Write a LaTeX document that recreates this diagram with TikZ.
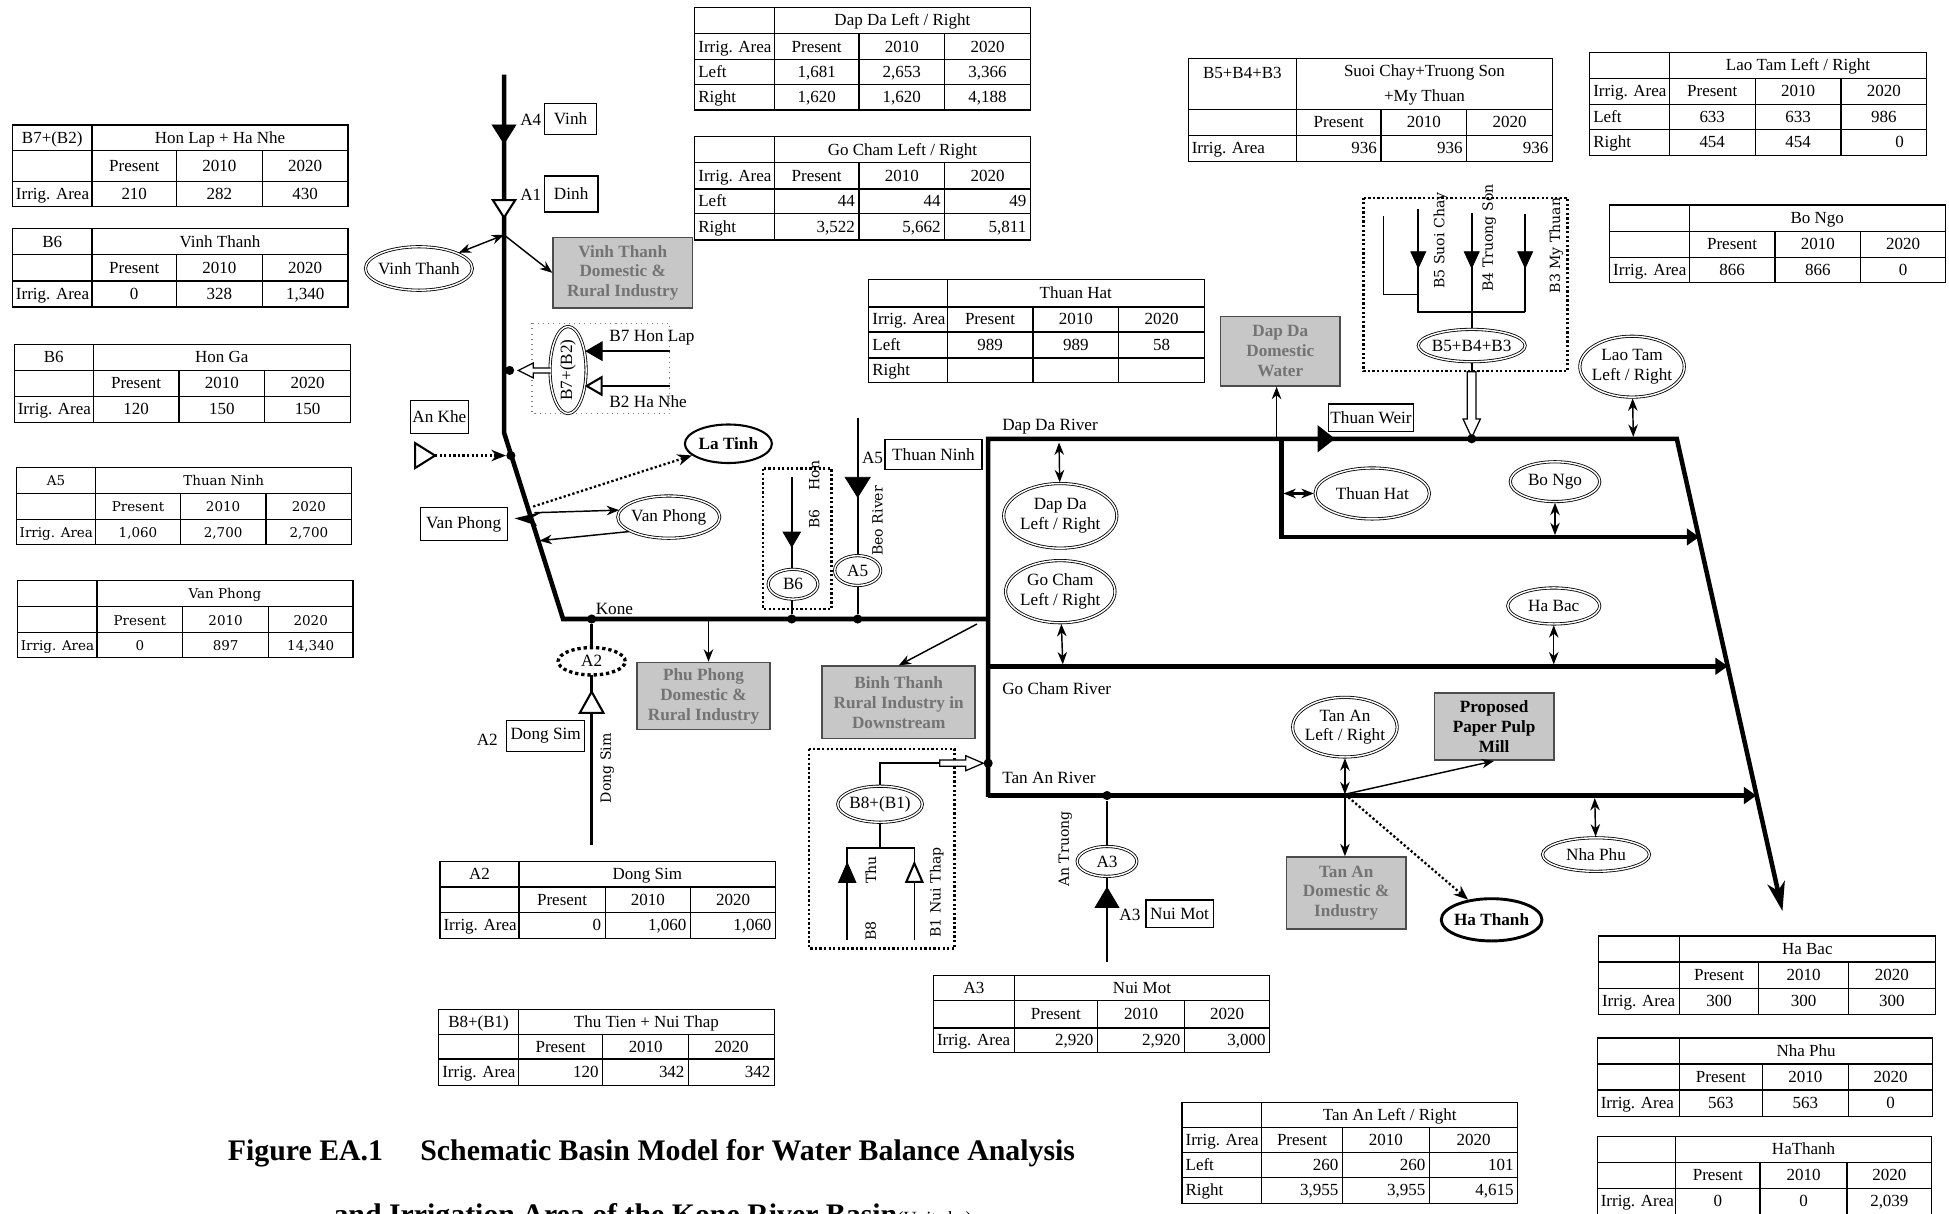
\documentclass[tikz,border=0pt]{standalone}
\usepackage{fontspec}
\setmainfont{Liberation Serif}
\newfontfamily\cent{DejaVu Serif}
\usetikzlibrary{arrows.meta,shapes.geometric}
\newcommand\labfont{\fontsize{8.3}{9.6}\selectfont}
\newcommand\tabfont{\fontsize{8.2}{9.6}\selectfont}
\newcommand\cenfont{\cent\fontsize{6.8}{8}\selectfont}
\newcommand\cenfontT{\cent\fontsize{6.5}{8}\selectfont}

\tikzset{
  x={(0.6pt,0)}, y={(0,-0.6pt)},
  river/.style={line width=2.2pt, line join=miter},
  tbl/.style={line width=0.6pt},
  tc/.style={font=\tabfont, inner sep=0pt, text height=6pt, text depth=0.8pt},
  lab/.style={font=\labfont, inner sep=0pt},
  rlab/.style={font=\cenfont, inner sep=0pt, rotate=90},
  lbox/.style={draw, line width=0.6pt, fill=white, font=\labfont, inner sep=0pt},
  gbox/.style={draw=black!70, line width=0.8pt, fill=black!22, text=black!55, font=\bfseries\labfont, align=center, inner sep=0pt},
  ell/.style={ellipse, draw, fill=white, double, double distance=0.7pt, line width=0.4pt, inner sep=-3pt, font=\labfont, align=center, outer sep=0.6pt},
  es/.style 2 args={minimum width={#1*1.2pt}, minimum height={#2*1.2pt}},
  bs/.style 2 args={minimum width={#1*0.6pt}, minimum height={#2*0.6pt}},
  dot/.style={circle, fill, inner sep=0pt, minimum size=4.4pt},
  arr/.style={line width=0.7pt, -{Stealth[length=6pt,width=4.6pt]}},
  darr/.style={line width=0.7pt, {Stealth[length=6pt,width=4.6pt]}-{Stealth[length=6pt,width=4.6pt]}},
  dotarr/.style={line width=1.1pt, dash pattern=on 1.1pt off 1.1pt, -{Stealth[length=7pt,width=5.5pt]}},
  tfill/.style={fill=black, draw=black, line width=0.4pt},
  topen/.style={fill=white, draw=black, line width=1pt},
  thinl/.style={line width=0.8pt},
  dbox/.style={line width=1.1pt, dash pattern=on 1.1pt off 1.1pt},
}

% triangles: #1 style, #2 (x,y) centre, #3 half width, #4 half length
\newcommand\tdown[4]{\filldraw[#1,shift={#2}] (-#3,-#4) -- (#3,-#4) -- (0,#4) -- cycle;}
\newcommand\tup[4]{\filldraw[#1,shift={#2}] (-#3,#4) -- (#3,#4) -- (0,-#4) -- cycle;}
\newcommand\tleft[4]{\filldraw[#1,shift={#2}] (#4,-#3) -- (#4,#3) -- (-#4,0) -- cycle;}
\newcommand\tright[4]{\filldraw[#1,shift={#2}] (-#4,-#3) -- (-#4,#3) -- (#4,0) -- cycle;}

% tables
\newcommand\tgrid[1]{%
 \pgfmathsetmacro\gxa{\TX[0]}\pgfmathsetmacro\gxb{\TX[1]}\pgfmathsetmacro\gxc{\TX[2]}%
 \pgfmathsetmacro\gxd{\TX[3]}\pgfmathsetmacro\gxe{\TX[4]}%
 \pgfmathsetmacro\gya{\TY[0]}\pgfmathsetmacro\gyb{\TY[1]}\pgfmathsetmacro\gyc{\TY[2]}%
 \pgfmathsetmacro\gyd{\TY[#1]}%
 \draw[tbl] (\gxa,\gya) rectangle (\gxe,\gyd);
 \draw[tbl] (\gxa,\gyb) -- (\gxe,\gyb) (\gxa,\gyc) -- (\gxe,\gyc);
 \ifnum#1=4 \pgfmathsetmacro\gyx{\TY[3]}\draw[tbl] (\gxa,\gyx) -- (\gxe,\gyx);\fi
 \draw[tbl] (\gxb,\gya) -- (\gxb,\gyd) (\gxc,\gyb) -- (\gxc,\gyd) (\gxd,\gyb) -- (\gxd,\gyd);
}
\newcommand\tcell[5]{%
 \if\relax\detokenize{#5}\relax\else
 \pgfmathtruncatemacro\cn{#2+1}\pgfmathtruncatemacro\rn{#3+1}%
 \pgfmathsetmacro\cxl{\TX[#2]}\pgfmathsetmacro\cxr{\TX[\cn]}%
 \pgfmathsetmacro\cyt{\TY[#3]}\pgfmathsetmacro\cyb{\TY[\rn]}%
 \pgfmathsetmacro\cyc{(\cyt+\cyb)/2}\pgfmathsetmacro\cxc{(\cxl+\cxr)/2}%
 \if#4l\node[tc,anchor=west] (#1) at (\cxl+2.5,\cyc) {#5};\fi
 \if#4c\node[tc] (#1) at (\cxc,\cyc) {#5};\fi
 \if#4r\node[tc,anchor=east] (#1) at (\cxr-3,\cyc) {#5};\fi
 \fi}
\newcommand\thead[3]{%
 \tcell{#1-h0}{0}{0}{c}{#2}%
 \pgfmathsetmacro\hxa{\TX[1]}\pgfmathsetmacro\hxb{\TX[4]}%
 \pgfmathsetmacro\hya{\TY[0]}\pgfmathsetmacro\hyb{\TY[1]}%
 \pgfmathsetmacro\hx{(\hxa+\hxb)/2}\pgfmathsetmacro\hy{(\hya+\hyb)/2}%
 \node[tc] (#1-h1) at (\hx,\hy) {#3};}
\newcommand\tyears[3]{%
 \tcell{#1-#2-0}{0}{#2}{l}{#3}\tcell{#1-#2-1}{1}{#2}{c}{Present}%
 \tcell{#1-#2-2}{2}{#2}{c}{2010}\tcell{#1-#2-3}{3}{#2}{c}{2020}}
\newcommand\tvals[7]{%
 \tcell{#1-#2-0}{0}{#2}{l}{#4}\tcell{#1-#2-1}{1}{#2}{#3}{#5}%
 \tcell{#1-#2-2}{2}{#2}{#3}{#6}\tcell{#1-#2-3}{3}{#2}{#3}{#7}}

\begin{document}
\begin{tikzpicture}
\useasboundingbox (0,0) rectangle (1568,976);

% ================= TABLES =================
\def\TX{{10,74,142,211,280}}\def\TY{{100.5,121,146,166}}
\tgrid{3}\thead{t1}{B7+(B2)}{Hon Lap + Ha Nhe}\tyears{t1}{1}{}\tvals{t1}{2}{c}{Irrig. Area}{210}{282}{430}

\def\TY{{184,205,226,247}}
\tgrid{3}\thead{t2}{B6}{Vinh Thanh}\tyears{t2}{1}{}\tvals{t2}{2}{c}{Irrig. Area}{0}{328}{1,340}

\def\TX{{11.5,75,144,213,282}}\def\TY{{277,298,319,340}}
\tgrid{3}\thead{t3}{B6}{Hon Ga}\tyears{t3}{1}{}\tvals{t3}{2}{c}{Irrig. Area}{120}{150}{150}

\renewcommand\tabfont{\cenfontT}
\def\TX{{13,77,145,214,283}}\def\TY{{376,397,418,438}}
\tgrid{3}\thead{t4}{A5}{Thuan Ninh}\tyears{t4}{1}{}\tvals{t4}{2}{c}{Irrig. Area}{1,060}{2,700}{2,700}

\def\TX{{14,78,147,216,284}}\def\TY{{467,488,509,529}}
\tgrid{3}\thead{t5}{}{Van Phong}\tyears{t5}{1}{}\tvals{t5}{2}{c}{Irrig. Area}{0}{897}{14,340}
\renewcommand\tabfont{\fontsize{8.2}{9.6}\selectfont}

\def\TX{{559,623,691,760,829}}\def\TY{{6,27,48,68,88.5}}
\tgrid{4}\thead{t6}{}{Dap Da Left / Right}\tyears{t6}{1}{Irrig. Area}
\tvals{t6}{2}{c}{Left}{1,681}{2,653}{3,366}\tvals{t6}{3}{c}{Right}{1,620}{1,620}{4,188}

\def\TY{{110,131,152,172,193}}
\tgrid{4}\thead{t7}{}{Go Cham Left / Right}\tyears{t7}{1}{Irrig. Area}
\tvals{t7}{2}{r}{Left}{44}{44}{49}\tvals{t7}{3}{r}{Right}{3,522}{5,662}{5,811}

\def\TX{{699,762,831,900,969}}\def\TY{{225,247,267,288,308}}
\tgrid{4}\thead{t8}{}{Thuan Hat}\tyears{t8}{1}{Irrig. Area}
\tvals{t8}{2}{c}{Left}{989}{989}{58}\tvals{t8}{3}{c}{Right}{}{}{}

\def\TX{{956,1043,1111,1180,1249}}\def\TY{{47,88,109,130}}
\tgrid{3}
\node[tc] (t9-h0) at (999.5,58.5) {B5+B4+B3};
\node[inner sep=0pt, align=center, font=\fontsize{8.2}{12}\selectfont] (t9-h1) at (1146,68.5) {Suoi Chay+Truong Son\\+My Thuan};
\tyears{t9}{1}{}\tvals{t9}{2}{r}{Irrig. Area}{936}{936}{936}

\def\TX{{1279,1343,1412,1481,1550}}\def\TY{{42,63,84,104,125}}
\tgrid{4}\thead{t10}{}{Lao Tam Left / Right}\tyears{t10}{1}{Irrig. Area}
\tvals{t10}{2}{c}{Left}{633}{633}{986}\tvals{t10}{3}{c}{Right}{454}{454}{}
\node[tc,anchor=east] (t10-3-3) at (1532,114.5) {0};

\def\TX{{1295,1359,1428,1497,1565}}\def\TY{{165,186,207,227}}
\tgrid{3}\thead{t11}{}{Bo Ngo}\tyears{t11}{1}{}\tvals{t11}{2}{c}{Irrig. Area}{866}{866}{0}

\def\TX{{354,417.5,487,555.5,624}}\def\TY{{693,713.6,734,755}}
\tgrid{3}\thead{t12}{A2}{Dong Sim}\tyears{t12}{1}{}\tvals{t12}{2}{r}{Irrig. Area}{0}{1,060}{1,060}

\def\TX{{353,417,485,554,623}}\def\TY{{812,832,852,873}}
\tgrid{3}\thead{t13}{B8+(B1)}{Thu Tien + Nui Thap}\tyears{t13}{1}{}\tvals{t13}{2}{r}{Irrig. Area}{120}{342}{342}

\def\TX{{751,816,883,953,1021.5}}\def\TY{{785,805,827,847}}
\tgrid{3}\thead{t14}{A3}{Nui Mot}\tyears{t14}{1}{}\tvals{t14}{2}{r}{Irrig. Area}{2,920}{2,920}{3,000}

\def\TX{{951,1015,1080,1150,1221}}\def\TY{{887,907,927,947,968}}
\tgrid{4}\thead{t15}{}{Tan An Left / Right}\tyears{t15}{1}{Irrig. Area}
\tvals{t15}{2}{r}{Left}{260}{260}{101}\tvals{t15}{3}{r}{Right}{3,955}{3,955}{4,615}

\def\TX{{1286,1351,1415,1487,1557}}\def\TY{{753,774,795,816}}
\tgrid{3}\thead{t16}{}{Ha Bac}\tyears{t16}{1}{}\tvals{t16}{2}{c}{Irrig. Area}{300}{300}{300}

\def\TX{{1285,1351,1418,1487,1555}}\def\TY{{835,856,877,898}}
\tgrid{3}\thead{t17}{}{Nha Phu}\tyears{t17}{1}{}\tvals{t17}{2}{c}{Irrig. Area}{563}{563}{0}

\def\TX{{1285,1348,1416,1486,1554}}\def\TY{{914.5,935,956,977}}
\tgrid{3}\thead{t18}{}{HaThanh}\tyears{t18}{1}{}\tvals{t18}{2}{c}{Irrig. Area}{0}{0}{2,039}

% ================= RIVERS =================
\coordinate (kTop) at (405.5,60);
\coordinate (kBend) at (405.5,348);
\coordinate (kBend2) at (453,498);
\coordinate (kEnd) at (795,498);
\draw[river] (kTop) -- (kBend) -- (kBend2) -- (kEnd);
\coordinate (dBL) at (795,641); \coordinate (dTL) at (795,353);
\coordinate (dTR) at (1349,353); \coordinate (dOut) at (1434,733);
\draw[river, -{Stealth[length=14pt,width=8.5pt,inset=4pt]}] (dBL) -- (dTL) -- (dTR) -- (dOut);
\coordinate (iS) at (1031,353); \coordinate (iC) at (1031,432); \coordinate (iE) at (1367,432);
\draw[river, -{Triangle[length=6pt,width=8pt]}] (iS) -- (iC) -- (iE);
\coordinate (mS) at (795,536); \coordinate (mE) at (1390,536);
\draw[river, -{Triangle[length=6pt,width=8pt]}] (mS) -- (mE);
\coordinate (tS) at (795,640); \coordinate (tE) at (1413,640);
\draw[river, -{Triangle[length=6pt,width=8pt]}] (tS) -- (tE);
\fill (1060,342) -- (1074,353) -- (1060,364) -- cycle;

\node[lab, anchor=west] (lDapDa) at (806,343) {Dap Da River};
\node[lab, anchor=west] (lGoCham) at (806,554) {Go Cham River};
\node[lab, anchor=west] (lTanAn) at (806,626) {Tan An River};
\node[lab, anchor=west] (lKone) at (479,490) {Kone};

% ================= UPPER KONE =================
\tdown{tfill}{(405.5,108)}{9.5}{7.5}
\node[lab] (lA4) at (427,96) {A4};
\node[lbox, bs={42}{25}] (bVinh) at (459,95.5) {Vinh};
\tdown{topen}{(405.5,168)}{9}{7}
\node[lab] (lA1) at (427,157) {A1};
\node[lbox, bs={43}{29}] (bDinh) at (459.5,156) {Dinh};
\coordinate (jVinh) at (405.5,189);
\node[ell, es={43}{17.5}] (eVT) at (337,216) {Vinh Thanh};
\draw[darr] (jVinh) -- (eVT);
\node[gbox, bs={112}{57}] (gVT) at (501,219.5) {Vinh Thanh\\Domestic \&\\Rural Industry};
\draw[arr] (jVinh) -- (gVT.west);

% B7+(B2)
\draw[gray, line width=0.5pt, dotted] (428,260) rectangle (539,333);
\node[ell, es={35}{14.5}, rotate=90] (eB7) at (457,297.7) {B7+(B2)};
\coordinate (b7in) at (539,282.5); \coordinate (b7end) at (484,282.5);
\draw[thinl] (b7in) -- (b7end);
\tleft{tfill}{(478,282.5)}{7.5}{6.5}
\node[lab, anchor=west] (lB7) at (490,272) {B7 Hon Lap};
\coordinate (b2in) at (539,310.5); \coordinate (b2end) at (484,310.5);
\draw[thinl] (b2in) -- (b2end);
\tleft{topen}{(478,310.5)}{7}{6}
\node[lab, anchor=west] (lB2) at (490,323.5) {B2 Ha Nhe};
\filldraw[fill=white, line width=0.6pt] (443,296) -- (429,296) -- (429,292) -- (417,298) -- (429,304) -- (429,300) -- (443,300);
\node[dot] (dB7) at (410,298) {};

% An Khe
\node[lbox, bs={47}{26}] (bAnKhe) at (353.5,335.5) {An Khe};
\tright{topen}{(342,366.5)}{10}{8}
\coordinate (anKheT) at (350,366.5);
\node[dot] (dAnKhe) at (411,366.5) {};
\draw[dotarr] (anKheT) -- (dAnKhe);

% Van Phong
\node[lbox, bs={70}{27}] (bVP) at (373,421.5) {Van Phong};
\fill (414,417) -- (437,411.5) -- (428,416.5) -- (432,423) -- cycle;
\node[ell, es={41}{17}] (eVP) at (538,416) {Van Phong};
\coordinate (jVP1) at (430,412.5);
\draw[arr] (jVP1) -- (eVP.172);
\coordinate (jVP2) at (434,435);
\draw[arr] (eVP.200) -- (jVP2);
\coordinate (jVP0) at (429,407.5);
\node[ellipse, draw, fill=white, line width=1pt, es={35}{15.5}, inner sep=-3pt, font=\bfseries\labfont] (eLT) at (586,357) {La Tinh};
\draw[dotarr] (jVP0) -- (eLT);

% A2 Dong Sim
\node[dot] (dKone) at (476,498) {};
\coordinate (a2bot) at (476,680);
\draw[line width=1.3pt] (a2bot) -- (dKone);
\node[ellipse, draw, fill=white, line width=1.6pt, dash pattern=on 1.6pt off 1.4pt, es={27}{11}, inner sep=-3pt, font=\labfont] (eA2) at (476,532) {A2};
\tup{topen}{(476,565)}{9.5}{8.5}
\node[lab] (lA2) at (392,595) {A2};
\node[lbox, bs={63}{25}] (bDS) at (439,592) {Dong Sim};
\node[rlab] (lDS) at (488.5,618) {Dong Sim};

% Phu Phong
\coordinate (jPP) at (570,499);
\node[gbox, bs={107}{54}] (gPP) at (566,560) {Phu Phong\\Domestic \&\\Rural Industry};
\draw[arr] (jPP) -- (jPP |- gPP.north);

% B6
\draw[dbox] (614,377) rectangle (669,490);
\coordinate (b6top) at (637,384);
\node[ell, es={20}{12}] (eB6) at (638,470) {B6};
\node[dot] (dB6) at (637,498) {};
\draw[thinl] (b6top) -- (b6top |- eB6.north);
\draw[thinl] (eB6.south -| dB6) -- (dB6);
\tdown{tfill}{(637,434)}{7}{6}
\node[rlab] (lB6) at (655,398) {B6\hspace{9pt}Hon};

% A5
\coordinate (a5top) at (690,336);
\node[dot] (dA5) at (690,498) {};
\draw[line width=1pt] (a5top) -- (dA5);
\tdown{tfill}{(690,392)}{10}{8}
\node[ell, es={18.5}{12}] (eA5) at (690,459) {A5};
\node[lab] (lA5) at (702,368) {A5};
\node[lbox, bs={78}{24}] (bTN) at (751,365.5) {Thuan Ninh};
\node[rlab] (lBeo) at (706,419) {Beo River};

% Binh Thanh
\coordinate (jBT) at (786,502);
\node[gbox, bs={123}{58}] (gBT) at (723,565) {Binh Thanh\\Rural Industry in\\Downstream};
\draw[arr] (jBT) -- (gBT.north);

% ================= RIGHT PART =================
\node[ell, es={45.5}{26}] (eDD) at (853,415) {Dap Da\\Left / Right};
\coordinate (ddT) at (852,356);
\draw[darr] (ddT) -- (eDD);
\node[ell, es={44}{25}] (eGC) at (853,476) {Go Cham\\Left / Right};
\coordinate (gcB) at (855,534.5);
\draw[darr] (eGC) -- (gcB);

\node[gbox, bs={96}{56}] (gDD) at (1030,282.5) {Dap Da\\Domestic\\Water};
\coordinate (jDD) at (1027,352);
\draw[arr] (jDD) -- (jDD |- gDD.south);
\node[lbox, bs={68}{22}] (bTW) at (1103,336) {Thuan Weir};

\node[ell, es={46}{20.5}] (eTH) at (1104,397) {Thuan Hat};
\coordinate (thL) at (1032.5,397);
\draw[darr, line width=1pt] (thL) -- (eTH);
\node[ell, es={36}{16}] (eBN) at (1251,387.5) {Bo Ngo};
\coordinate (bnB) at (1251,430.5);
\draw[darr] (eBN) -- (bnB);
\node[ell, es={37}{14.5}] (eHB) at (1250,487.5) {Ha Bac};
\coordinate (hbB) at (1250,534.5);
\draw[darr] (eHB) -- (hbB);
\node[ell, es={42}{24.5}] (eLao) at (1313,295) {Lao Tam\\Left / Right};
\coordinate (ltB) at (1314,351.5);
\draw[darr] (eLao) -- (ltB);

% B5+B4+B3
\draw[dbox] (1097,159) rectangle (1261,298.5);
\draw[thinl] (1113,174) -- (1113,237) -- (1141,237);
\draw[thinl] (1141,168) -- (1141,251) -- (1227,251);
\draw[thinl] (1227,172) -- (1227,251);
\node[ell, es={43}{13}] (eB5) at (1184,278) {B5+B4+B3};
\coordinate (b4top) at (1184,171);
\draw[thinl] (b4top) -- (eB5.north);
\tdown{tfill}{(1141,209)}{6}{6.5}
\tdown{tfill}{(1184,209)}{6}{6.5}
\tdown{tfill}{(1227,209)}{6}{6.5}
\node[rlab] (lB5) at (1159,193.5) {B5 Suoi Chay};
\node[rlab] (lB4) at (1198,191.5) {B4 Truong Son};
\node[rlab] (lB3) at (1252,197.5) {B3 My Thuan};
\coordinate (b5o) at (1184,299);
\draw[thinl] (eB5.south) -- (b5o);
\filldraw[fill=white, line width=0.6pt] (1180.5,299) -- (1180.5,337) -- (1177,337) -- (1184,352) -- (1191,337) -- (1187.5,337) -- (1187.5,299) -- cycle;
\node[dot] (dB5) at (1184,353) {};

% Tan An
\node[ell, es={42}{24}] (eTA) at (1082,585) {Tan An\\Left / Right};
\coordinate (jTA) at (1082,639);
\draw[darr] (eTA) -- (jTA);
\node[gbox, bs={96}{54}, text=black] (gPM) at (1202,584.5) {Proposed\\Paper Pulp\\Mill};
\draw[arr] (jTA) -- (gPM.south);
\node[gbox, bs={96}{58}] (gTA) at (1083,718.5) {Tan An\\Domestic \&\\Industry};
\draw[arr] (jTA) -- (jTA |- gTA.north);
\node[ellipse, draw, fill=white, line width=1.4pt, es={40.5}{17}, inner sep=-3pt, font=\bfseries\labfont] (eHT) at (1200,740) {Ha Thanh};
\draw[dotarr] (jTA) -- (eHT);
\node[ell, es={43}{13.5}] (eNP) at (1284,687.5) {Nha Phu};
\coordinate (npT) at (1283,642);
\draw[darr] (npT) -- (eNP);

% B8+(B1)
\draw[dbox] (651,602.6) rectangle (768,763);
\node[ell, es={34}{14.5}] (eB8) at (708,647) {B8+(B1)};
\coordinate (b8c1) at (708,614); \coordinate (b8h) at (756,614);
\draw[thinl] (eB8.north) -- (b8c1) -- (b8h);
\filldraw[fill=white, line width=0.6pt] (756,611.5) -- (777,611.5) -- (777,608) -- (791,614) -- (777,620) -- (777,616.5) -- (756,616.5) -- cycle;
\node[dot] (dB8) at (795,614) {};
\coordinate (b8j) at (708,682);
\draw[thinl] (eB8.south) -- (b8j);
\draw[thinl] (681.6,756) -- (681.6,682) -- (735.6,682) -- (735.6,756);
\tup{tfill}{(681.6,702)}{7}{8}
\tup{topen}{(735.6,702)}{6.5}{7.5}
\node[rlab] (lThu) at (700.6,700) {Thu};
\node[rlab] (lB8) at (700.6,749) {B8};
\node[rlab] (lB1) at (753.6,718) {B1 Nui Thap};

% A3
\node[dot] (dA3) at (890.6,640) {};
\coordinate (a3bot) at (890.6,774);
\draw[line width=1.3pt] (a3bot) -- (dA3);
\node[ell, es={24}{12}] (eA3) at (890.6,693) {A3};
\tup{tfill}{(890.6,722)}{9.5}{8}
\node[lab] (lA3) at (909,736) {A3};
\node[lbox, bs={54}{22}] (bNM) at (949,735) {Nui Mot};
\node[rlab] (lAT) at (857,683) {An Truong};

% ================= CAPTION =================
\node[anchor=base west, inner sep=0pt, font=\bfseries\fontsize{14.4}{16}\selectfont] (cap1) at (183,934) {Figure EA.1\hspace{18pt}Schematic Basin Model for Water Balance Analysis};
\node[anchor=base west, inner sep=0pt, font=\bfseries\fontsize{14.4}{16}\selectfont] (cap2) at (268,985) {and Irrigation Area of the Kone River Basin{\mdseries\fontsize{9}{10}\selectfont(Unit: ha)}};
\end{tikzpicture}
\end{document}
